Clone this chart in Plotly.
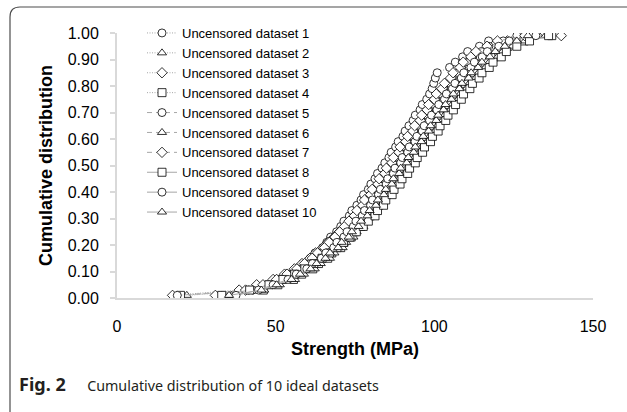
import plotly.graph_objects as go

# ---------------- data ----------------
cum_prob = [0.01, 0.03, 0.05, 0.07, 0.09, 0.11, 0.13, 0.15, 0.17, 0.19,
            0.21, 0.23, 0.25, 0.27, 0.29, 0.31, 0.33, 0.35, 0.37, 0.39,
            0.41, 0.43, 0.45, 0.47, 0.49, 0.51, 0.53, 0.55, 0.57, 0.59,
            0.61, 0.63, 0.65, 0.67, 0.69, 0.71, 0.73, 0.75, 0.77, 0.79,
            0.81, 0.83, 0.85, 0.87, 0.89, 0.91, 0.93, 0.95, 0.97, 0.99]

strength_1 = [32.8, 41.5, 47.3, 50.6, 53.9, 56.8, 58.5, 60.9, 62.4, 64.8, 66.1, 67.3, 69.2, 70.5, 71.5,
              73.2, 74.0, 75.6, 76.9, 77.7, 79.2, 80.0, 81.3, 82.1, 83.5, 84.4, 85.7, 86.4, 87.8, 88.6,
              90.1, 90.8, 92.0, 93.3, 94.0, 95.5, 96.2, 97.6, 98.5, 99.3, 99.8, 100.3, 100.9, 104.8, 106.6,
              108.9, 110.5, 114.2, 117.1, 126.0]
strength_2 = [22.0, 45.3, 49.8, 54.6, 57.0, 60.5, 62.2, 65.1, 66.4, 69.0, 70.1, 72.3, 73.4, 75.3, 76.1,
              78.0, 78.9, 80.7, 81.4, 83.2, 84.0, 85.7, 86.3, 88.0, 88.6, 90.3, 90.9, 92.5, 93.2, 94.9,
              95.5, 97.2, 97.8, 99.5, 100.1, 101.8, 102.5, 104.3, 104.9, 106.8, 107.6, 109.6, 110.4, 112.7, 113.8,
              116.3, 117.9, 121.5, 125.0, 133.0]
strength_3 = [17.5, 38.5, 44.0, 49.2, 52.8, 55.9, 58.3, 60.8, 62.6, 64.9, 66.5, 68.4, 70.1, 71.8, 73.6,
              75.4, 76.9, 78.5, 79.6, 81.0, 82.5, 83.4, 84.9, 85.7, 87.2, 88.0, 89.5, 90.2, 91.7, 92.4,
              94.0, 94.7, 96.3, 97.0, 98.6, 99.3, 100.8, 101.6, 103.2, 104.0, 105.9, 106.9, 108.7, 109.8, 111.9,
              113.4, 116.1, 118.5, 123.0, 140.0]
strength_4 = [20.0, 46.1, 50.7, 55.6, 58.2, 61.7, 63.5, 66.4, 67.7, 70.5, 71.5, 73.8, 74.8, 76.9, 77.6,
              79.8, 80.4, 82.5, 83.0, 85.0, 85.6, 87.5, 88.0, 89.9, 90.3, 92.3, 92.7, 94.5, 95.0, 96.9,
              97.4, 99.3, 99.8, 101.6, 102.2, 104.0, 104.6, 106.5, 107.0, 109.1, 109.8, 112.0, 112.7, 115.0, 116.0,
              118.8, 120.3, 123.2, 128.3, 137.0]
strength_5 = [19.0, 42.8, 48.9, 52.1, 55.9, 58.0, 60.9, 62.5, 64.9, 66.3, 68.4, 69.5, 71.6, 72.4, 74.3,
              75.1, 77.0, 77.7, 79.4, 80.1, 81.9, 82.5, 84.1, 84.8, 86.4, 87.0, 88.6, 89.2, 90.8, 91.4,
              93.1, 93.7, 95.4, 95.9, 97.6, 98.2, 99.9, 100.5, 102.2, 103.0, 104.9, 105.7, 107.6, 108.6, 110.8,
              112.1, 114.8, 117.2, 121.7, 131.0]
strength_6 = [36.0, 46.4, 51.3, 56.1, 58.9, 62.3, 64.2, 67.1, 68.5, 71.1, 72.2, 74.5, 75.5, 77.6, 78.5,
              80.5, 81.3, 83.2, 83.9, 85.8, 86.5, 88.3, 88.9, 90.7, 91.3, 93.1, 93.7, 95.4, 96.0, 97.8,
              98.5, 100.2, 100.9, 102.6, 103.2, 105.0, 105.6, 107.5, 108.1, 110.1, 111.0, 113.0, 113.9, 116.1, 117.3,
              119.9, 121.5, 124.6, 128.5, 135.0]
strength_7 = [31.0, 40.5, 46.0, 50.3, 53.6, 56.7, 59.1, 61.5, 63.2, 65.4, 66.9, 68.7, 70.2, 71.7, 73.1,
              74.8, 75.6, 77.4, 78.0, 79.9, 80.4, 82.2, 82.6, 84.4, 84.9, 86.6, 87.1, 88.8, 89.2, 91.0,
              91.6, 93.2, 93.8, 95.5, 96.0, 97.7, 98.2, 100.0, 100.6, 102.4, 103.2, 105.1, 105.9, 108.1, 109.1,
              111.5, 113.1, 116.6, 119.9, 128.5]
strength_8 = [33.0, 41.8, 47.9, 52.3, 56.0, 59.2, 62.0, 64.6, 67.0, 69.3, 71.4, 73.4, 75.4, 77.6, 79.2,
              81.3, 82.1, 84.0, 84.7, 86.7, 87.3, 89.2, 89.8, 91.6, 92.2, 94.0, 94.6, 96.3, 96.9, 98.8,
              99.4, 101.2, 101.8, 103.6, 104.3, 106.0, 106.7, 108.5, 109.2, 111.2, 112.0, 114.1, 115.0, 117.3, 118.5,
              121.1, 122.7, 126.0, 130.0, 136.0]
strength_9 = [37.5, 44.6, 49.2, 53.9, 56.5, 59.8, 61.6, 64.4, 65.8, 68.3, 69.3, 71.5, 72.5, 74.5, 75.3,
              77.3, 78.0, 79.9, 80.5, 82.4, 83.0, 84.8, 85.3, 87.1, 87.6, 89.4, 89.9, 91.6, 92.1, 93.9,
              94.5, 96.2, 96.8, 98.5, 99.1, 100.8, 101.4, 103.2, 103.8, 105.7, 106.5, 108.5, 109.3, 111.5, 112.6,
              115.1, 116.7, 120.3, 123.6, 132.0]
strength_10 = [35.3, 45.5, 50.3, 55.0, 57.7, 61.0, 62.9, 65.7, 67.1, 69.7, 70.8, 73.0, 74.0, 76.1, 76.9,
               78.9, 79.6, 81.6, 82.2, 84.1, 84.7, 86.6, 87.1, 88.9, 89.4, 91.3, 91.8, 93.5, 94.0, 95.9,
               96.5, 98.2, 98.8, 100.6, 101.2, 102.9, 103.5, 105.4, 106.0, 107.9, 108.7, 110.8, 111.6, 113.8, 115.0,
               117.5, 119.2, 122.2, 126.0, 129.5]

series_names = ["Uncensored dataset 1", "Uncensored dataset 2", "Uncensored dataset 3",
                "Uncensored dataset 4", "Uncensored dataset 5", "Uncensored dataset 6",
                "Uncensored dataset 7", "Uncensored dataset 8", "Uncensored dataset 9",
                "Uncensored dataset 10"]
series_values = [strength_1, strength_2, strength_3, strength_4, strength_5,
                 strength_6, strength_7, strength_8, strength_9, strength_10]

x_tick_values = [0, 50, 100, 150]
y_tick_values = [0.0, 0.1, 0.2, 0.3, 0.4, 0.5, 0.6, 0.7, 0.8, 0.9, 1.0]

# ---------------- styling ----------------
symbols = ["circle", "triangle-up", "diamond", "square", "circle",
           "triangle-up", "diamond", "square", "circle", "triangle-up"]
dashes = ["1px,1.5px", "1px,1.5px", "1px,1.5px", "1px,1.5px",
          "5px,4px", "5px,4px", "5px,4px", "solid", "solid", "solid"]
sizes = {"circle": 8, "triangle-up": 8, "diamond": 8, "square": 8}

W, H = 627, 412
L, R, T, B = 117, 34, 33, 114
PW, PH = W - L - R, H - T - B


def px(x):
    return (x - L) / PW


def py(y):
    return (H - B - y) / PH


ARIAL = "Liberation Sans"

fig = go.Figure()
for name, vals, sym, dash in zip(series_names, series_values, symbols, dashes):
    fig.add_trace(go.Scatter(
        x=vals, y=cum_prob, name=name, mode="lines+markers",
        line=dict(color="#a6a6a6", width=1, dash=dash),
        marker=dict(symbol=sym, size=sizes[sym], color="white",
                    line=dict(color="black", width=0.8)),
    ))

fig.update_layout(
    width=W, height=H,
    margin=dict(l=L, r=R, t=T, b=B, pad=0),
    paper_bgcolor="white", plot_bgcolor="white",
    font=dict(family=ARIAL, color="#000000"),
    showlegend=True,
    legend=dict(
        x=px(142), y=py(18), xanchor="left", yanchor="top",
        bgcolor="rgba(0,0,0,0)", borderwidth=0,
        font=dict(family=ARIAL, size=13, color="#000000"),
        itemwidth=30, tracegroupgap=0, maxheight=1,
    ),
    xaxis=dict(
        range=[0, 150], tickvals=x_tick_values, ticks="", showgrid=False, zeroline=False,
        showline=True, linecolor="#d9d9d9", linewidth=2,
        tickfont=dict(family=ARIAL, size=16, color="#000000"),
        ticklabelstandoff=13,
        title=dict(text="<b>Strength (MPa)</b>", standoff=8,
                   font=dict(family=ARIAL, size=18, color="#000000")),
        automargin=False,
    ),
    yaxis=dict(
        range=[0, 1], tickvals=y_tick_values, tickformat=".2f", showgrid=False, zeroline=False,
        showline=True, linecolor="#d9d9d9", linewidth=2,
        ticks="outside", ticklen=5, tickcolor="#d9d9d9", tickwidth=1.5,
        tickfont=dict(family=ARIAL, size=16, color="#000000"),
        ticklabelstandoff=8,
        title=dict(text="<b>Cumulative distribution</b>", standoff=10,
                   font=dict(family=ARIAL, size=18, color="#000000")),
        automargin=False,
    ),
)

# figure frame (rounded top-left corner) and caption
frame = (f"M {px(10)},{py(440)} L {px(10)},{py(17)} "
         f"Q {px(10)},{py(7)} {px(20)},{py(7)} L {px(650)},{py(7)}")
fig.add_shape(type="path", path=frame, xref="paper", yref="paper",
              line=dict(color="#4d4d4d", width=1.2), layer="below")

fig.add_annotation(
    text=("<span style='font-size:18px'><b>Fig. 2</b></span>"
          "\u2003\u2002Cumulative distribution of 10 ideal datasets"),
    x=px(17), y=py(384), xref="paper", yref="paper",
    xanchor="left", yanchor="middle", showarrow=False,
    font=dict(family="Noto Sans", size=14.3, color="#231f20"),
)

fig.write_html("out.html")
